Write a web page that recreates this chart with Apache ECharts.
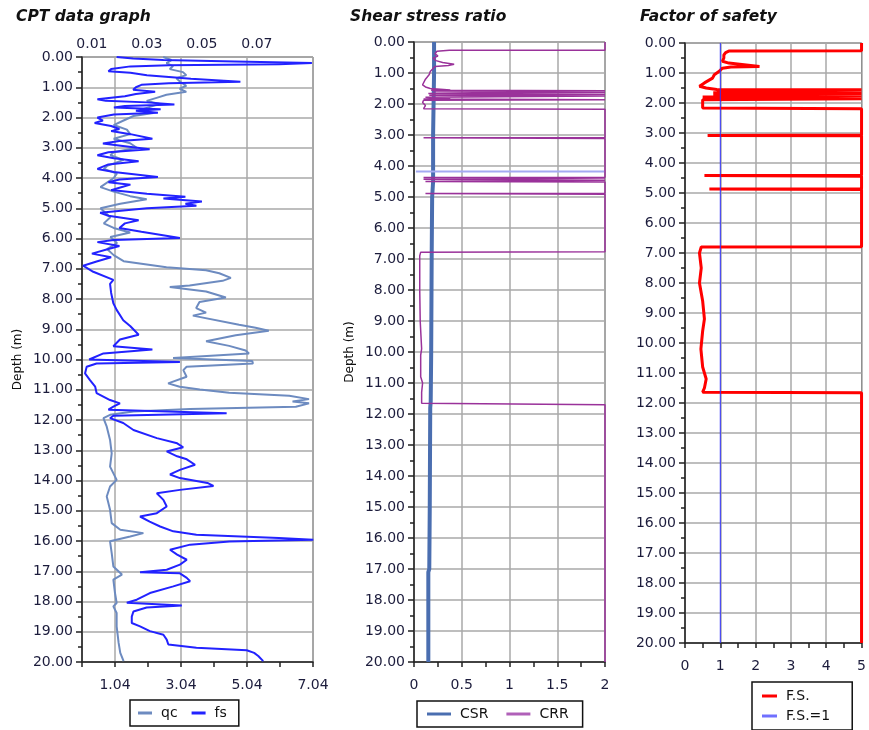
<!DOCTYPE html>
<html>
<head>
<meta charset="utf-8">
<script src="https://cdn.jsdelivr.net/npm/echarts@6/dist/echarts.min.js"></script>
<style>
  html, body { margin: 0; padding: 0; background: #fff; }
  #chart { width: 869px; height: 730px; }
</style>
</head>
<body>
<div id="chart"></div>
<script>
// CPT data: [value, depth]
var qcData = [
  [2.5,0.0],[2.75,0.1],[2.6,0.2],[2.8,0.3],[2.7,0.4],[3.1,0.5],[3.2,0.6],[2.9,0.7],[3.05,0.85],[3.2,0.95],
  [3.0,1.05],[3.2,1.15],[2.6,1.25],[2.3,1.35],[2.0,1.45],[2.4,1.55],[2.1,1.65],[1.8,1.75],[2.2,1.85],[1.6,1.95],
  [1.3,2.1],[1.0,2.25],[1.4,2.4],[1.5,2.55],[1.0,2.7],[1.5,2.85],[1.7,3.0],[1.0,3.15],[0.9,3.25],[1.3,3.4],
  [0.8,3.6],[0.7,3.7],[1.1,3.85],[1.0,4.0],[0.6,4.3],[1.0,4.45],[1.5,4.6],[2.0,4.7],[1.2,4.85],[0.6,5.0],
  [0.7,5.1],[0.9,5.3],[0.7,5.5],[1.0,5.65],[1.5,5.8],[0.9,5.95],[1.1,6.15],[0.8,6.35],[1.0,6.55],[1.3,6.75],
  [2.6,6.95],[3.8,7.05],[4.2,7.15],[4.55,7.3],[4.3,7.4],[3.3,7.55],[2.7,7.6],[3.8,7.75],[4.1,7.85],[4.4,7.95],
  [3.6,8.1],[3.5,8.3],[3.8,8.45],[3.4,8.55],[4.8,8.85],[5.3,8.95],[5.7,9.05],[4.7,9.2],[3.8,9.4],[4.5,9.55],
  [5.0,9.7],[5.1,9.8],[2.8,9.95],[5.2,10.05],[5.22,10.13],[3.21,10.24],[3.11,10.35],[3.21,10.57],[2.65,10.79],[3.0,10.9],
  [3.61,10.99],[4.5,11.1],[6.32,11.2],[6.92,11.31],[6.42,11.39],[6.92,11.45],[6.52,11.56],[3.31,11.64],[1.6,11.72],[0.89,11.83],
  [0.69,11.94],[0.79,12.22],[0.89,12.66],[0.94,13.1],[0.89,13.54],[1.09,13.98],[0.89,14.2],[0.79,14.53],[0.89,14.97],[0.94,15.41],
  [1.2,15.63],[1.9,15.74],[1.5,15.85],[0.89,16.01],[0.94,16.4],[0.99,16.84],[1.25,17.11],[0.99,17.28],[1.04,17.72],[1.09,18.05],
  [0.99,18.16],[1.09,18.38],[1.09,18.82],[1.15,19.37],[1.2,19.7],[1.3,19.97]
];
var fsData = [
  [0.019,0.0],[0.025,0.05],[0.036,0.1],[0.062,0.15],[0.090,0.2],[0.078,0.24],[0.038,0.27],[0.024,0.31],[0.017,0.4],[0.016,0.47],
  [0.024,0.52],[0.03,0.6],[0.038,0.66],[0.046,0.72],[0.064,0.82],[0.038,0.87],[0.028,0.92],[0.026,1.0],[0.025,1.08],[0.033,1.15],
  [0.026,1.22],[0.022,1.3],[0.012,1.4],[0.015,1.45],[0.03,1.5],[0.04,1.57],[0.022,1.62],[0.018,1.67],[0.035,1.73],[0.026,1.78],
  [0.034,1.84],[0.018,1.9],[0.012,2.0],[0.014,2.1],[0.011,2.18],[0.017,2.28],[0.02,2.38],[0.017,2.45],[0.024,2.55],[0.032,2.7],
  [0.02,2.78],[0.014,2.86],[0.022,2.95],[0.031,3.05],[0.016,3.15],[0.012,3.25],[0.018,3.35],[0.027,3.45],[0.016,3.55],[0.012,3.7],
  [0.018,3.8],[0.034,3.97],[0.02,4.05],[0.016,4.14],[0.024,4.22],[0.02,4.32],[0.017,4.4],[0.03,4.52],[0.044,4.62],[0.036,4.68],
  [0.05,4.78],[0.044,4.85],[0.048,4.92],[0.03,5.0],[0.013,5.15],[0.016,5.25],[0.027,5.4],[0.022,5.5],[0.02,5.65],[0.028,5.78],
  [0.042,5.98],[0.018,6.05],[0.012,6.12],[0.02,6.25],[0.016,6.35],[0.01,6.5],[0.017,6.62],[0.012,6.75],[0.0068,6.9],[0.0105,7.1],
  [0.0178,7.37],[0.0166,7.5],[0.017,7.8],[0.0178,8.14],[0.019,8.36],[0.0214,8.7],[0.024,8.9],[0.027,9.18],[0.0202,9.34],[0.0178,9.56],
  [0.032,9.67],[0.0142,9.8],[0.009,10.0],[0.042,10.08],[0.0117,10.13],[0.0081,10.24],[0.0075,10.46],[0.0093,10.68],[0.0112,10.9],[0.0117,11.11],
  [0.0166,11.34],[0.0202,11.45],[0.0178,11.56],[0.016,11.66],[0.059,11.78],[0.0178,11.86],[0.0166,11.94],[0.0214,12.1],[0.0251,12.33],[0.0336,12.6],
  [0.041,12.77],[0.0432,12.9],[0.0372,13.04],[0.041,13.2],[0.0445,13.3],[0.0475,13.48],[0.042,13.65],[0.0384,13.8],[0.042,13.92],[0.052,14.08],
  [0.0542,14.18],[0.042,14.31],[0.0336,14.42],[0.036,14.64],[0.0372,14.86],[0.0336,15.08],[0.0275,15.19],[0.031,15.36],[0.0348,15.52],[0.0396,15.68],
  [0.048,15.79],[0.078,15.9],[0.0905,15.96],[0.06,16.02],[0.0457,16.12],[0.0384,16.29],[0.041,16.45],[0.0445,16.62],[0.042,16.78],[0.0372,16.95],
  [0.0275,17.03],[0.042,17.07],[0.0445,17.22],[0.0457,17.33],[0.0396,17.5],[0.0311,17.72],[0.0263,17.94],[0.0227,18.04],[0.0427,18.13],[0.0299,18.2],
  [0.0251,18.33],[0.0245,18.5],[0.0245,18.71],[0.0275,18.82],[0.0311,18.98],[0.036,19.1],[0.0372,19.26],[0.0378,19.42],[0.048,19.53],[0.0663,19.61],
  [0.069,19.7],[0.0705,19.8],[0.0723,19.97]
];

// shear stress ratio: [ratio, depth]
var csrData = [
  [0.21,0],[0.21,1],[0.2,3],[0.2,4.5],[0.19,5],[0.185,7],[0.18,10],[0.175,11.6],[0.17,11.8],[0.165,15],
  [0.16,17],[0.15,17.1],[0.15,20]
];
var csrFlash = [[0.02,4.18],[2,4.18]];
var crrData = [
  [2,0],[2,0.27],[0.37,0.27],[0.24,0.3],[0.22,0.38],[0.25,0.45],[0.2,0.52],[0.23,0.6],[0.3,0.66],[0.42,0.72],
  [0.36,0.76],[0.22,0.79],[0.21,0.85],[0.17,0.95],[0.16,1.05],[0.12,1.2],[0.09,1.38],[0.12,1.45],[0.17,1.5],[0.38,1.55],
  [0.18,1.56],[2,1.57],[0.2,1.6],[2,1.63],[0.15,1.66],[2,1.69],[0.16,1.72],[2,1.74],[0.12,1.78],[0.38,1.83],
  [0.1,1.84],[2,1.86],[0.1,1.88],[0.09,1.95],[0.12,2.05],[0.1,2.15],[2,2.17],[2,3.08],[0.1,3.09],[2,3.11],
  [2,4.36],[0.1,4.37],[2,4.39],[0.1,4.43],[2,4.46],[0.12,4.5],[2,4.52],[2,4.88],[0.12,4.89],[2,4.91],
  [2,6.77],[0.07,6.78],[0.06,6.9],[0.06,8.0],[0.065,9.0],[0.08,9.9],[0.07,10.1],[0.07,10.8],[0.09,11.0],[0.08,11.3],
  [0.08,11.65],[2,11.7],[2,20]
];

// factor of safety: [F.S., depth]
var fsFactor = [
  [5,0],[5,0.26],[1.24,0.27],[1.15,0.32],[1.1,0.4],[1.1,0.5],[1.06,0.61],[1.24,0.67],[2.11,0.78],[1.3,0.8],
  [1.06,0.84],[0.96,0.95],[0.83,1.06],[0.78,1.17],[0.55,1.33],[0.41,1.44],[0.6,1.5],[0.9,1.55],[5,1.56],[0.9,1.6],
  [5,1.62],[0.8,1.66],[5,1.69],[0.8,1.72],[5,1.75],[0.5,1.8],[5,1.86],[0.5,1.89],[0.45,1.95],[0.5,2.05],
  [0.5,2.17],[5,2.19],[5,3.07],[0.64,3.08],[5,3.09],[5,4.41],[0.55,4.42],[5,4.44],[5,4.86],[0.69,4.87],
  [5,4.88],[5,6.79],[0.46,6.8],[0.41,7.0],[0.46,7.5],[0.41,8.0],[0.5,8.6],[0.55,9.2],[0.5,9.6],[0.45,10.2],
  [0.5,10.8],[0.6,11.2],[0.55,11.5],[0.5,11.64],[5,11.66],[5,20]
];
var fsOne = [[1,0],[1,20]];

var fsTopLabels = [0.01, 0.03, 0.05, 0.07];

var labelColor = '#1c1c3c';
var gridColor = '#a8a8a8';
var font = 'DejaVu Sans';

function depthAxis(gridIndex, name) {
  return {
    type: 'value', gridIndex: gridIndex, inverse: true, min: 0, max: 20, interval: 1,
    name: name, nameLocation: 'middle', nameGap: 58,
    nameTextStyle: { color: '#111', fontSize: 12, fontFamily: font },
    axisLine: { show: true, lineStyle: { color: '#222', width: 1.5 } },
    axisTick: { show: true, length: 6, lineStyle: { color: '#222', width: 1.5 } },
    minorTick: { show: true, splitNumber: 2, length: 4, lineStyle: { color: '#222', width: 1.5 } },
    splitLine: { show: true, lineStyle: { color: gridColor, width: 1.5 } },
    axisLabel: { color: labelColor, fontSize: 14, fontFamily: font, margin: 9,
      formatter: function (v) { return v.toFixed(2); } }
  };
}

function bottomAxis(gridIndex, min, max, step, colors, fmt) {
  return {
    type: 'value', gridIndex: gridIndex, position: 'bottom', min: min, max: max, interval: step,
    axisLine: { show: true, onZero: false, lineStyle: { color: '#222', width: 1.5 } },
    axisTick: { show: true, length: 5, lineStyle: { color: '#222', width: 1.5 } },
    splitLine: { show: true, lineStyle: { color: colors, width: 1.5 } },
    axisLabel: { color: labelColor, fontSize: 14, fontFamily: font, margin: 16, formatter: fmt }
  };
}

var chart = echarts.init(document.getElementById('chart'));
chart.setOption({
  animation: false,
  backgroundColor: '#fff',
  title: [
    { text: 'CPT data graph', left: 11, top: 4 },
    { text: 'Shear stress ratio', left: 345, top: 4 },
    { text: 'Factor of safety', left: 635, top: 4 }
  ].map(function (t) {
    t.textStyle = { fontSize: 15.5, fontWeight: 'bold', fontStyle: 'italic', color: '#111', fontFamily: font };
    return t;
  }),
  grid: [
    { left: 82, top: 57, width: 231, height: 605, show: true, borderColor: '#444', borderWidth: 1 },
    { left: 414, top: 42, width: 191, height: 620, show: true, borderColor: '#444', borderWidth: 1 },
    { left: 685, top: 43, width: 182, height: 600, show: true, borderColor: '#444', borderWidth: 1 }
  ],
  xAxis: [
    bottomAxis(0, 0.04, 7.04, 1, ['transparent', gridColor], function (v) {
      return Math.round(v - 0.04) % 2 === 1 ? v.toFixed(2) : '';
    }),
    {
      type: 'value', gridIndex: 0, position: 'top', min: 0.0064, max: 0.0904,
      axisLine: { show: false }, axisTick: { show: false }, splitLine: { show: false },
      axisLabel: { customValues: fsTopLabels, color: labelColor, fontSize: 14, fontFamily: font, margin: 6,
        formatter: function (v) { return v.toFixed(2); } }
    },
    bottomAxis(1, 0, 2, 0.25, [gridColor, 'transparent'], function (v) {
      return Math.abs(v * 2 - Math.round(v * 2)) < 1e-6 ? String(v) : '';
    }),
    bottomAxis(2, 0, 5, 0.5, [gridColor, 'transparent'], function (v) {
      return Math.abs(v - Math.round(v)) < 1e-6 ? String(v) : '';
    })
  ],
  yAxis: [
    depthAxis(0, 'Depth (m)'),
    depthAxis(1, 'Depth (m)'),
    depthAxis(2, '')
  ],
  legend: [
    { data: ['qc', 'fs'], left: 130, top: 700, itemWidth: 14, padding: [6, 12, 6, 8], itemGap: 14 },
    { data: ['CSR', 'CRR'], left: 417, top: 701, itemWidth: 24, padding: [6, 14, 6, 10], itemGap: 18 },
    { data: ['F.S.', 'F.S.=1'], left: 752, top: 682, orient: 'vertical', itemWidth: 15,
      padding: [7, 22, 7, 10], itemGap: 6 }
  ].map(function (l) {
    l.icon = 'rect';
    l.itemHeight = 3;
    l.borderColor = '#111';
    l.borderWidth = 1.5;
    l.textStyle = { fontSize: 14, color: '#111', fontFamily: font, padding: [0, 0, 0, 4] };
    return l;
  }),
  series: [
    { name: 'qc', type: 'line', xAxisIndex: 0, yAxisIndex: 0, data: qcData, showSymbol: false,
      lineStyle: { color: '#6d8bc0', width: 2 }, itemStyle: { color: '#6d8bc0' } },
    { name: 'fs', type: 'line', xAxisIndex: 1, yAxisIndex: 0, data: fsData, showSymbol: false,
      lineStyle: { color: '#2222ff', width: 2 }, itemStyle: { color: '#2222ff' } },
    { name: 'CSR', type: 'line', xAxisIndex: 2, yAxisIndex: 1, data: csrData, showSymbol: false,
      lineStyle: { color: '#4a6eb0', width: 4 }, itemStyle: { color: '#4a6eb0' } },
    { name: 'csrFlash', type: 'line', xAxisIndex: 2, yAxisIndex: 1, data: csrFlash, showSymbol: false,
      lineStyle: { color: '#a4aaf2', width: 2 }, itemStyle: { color: '#a4aaf2' } },
    { name: 'CRR', type: 'line', xAxisIndex: 2, yAxisIndex: 1, data: crrData, showSymbol: false,
      lineStyle: { color: '#9a329a', width: 1.5 }, itemStyle: { color: '#b060b8' } },
    { name: 'F.S.', type: 'line', xAxisIndex: 3, yAxisIndex: 2, data: fsFactor, showSymbol: false,
      lineStyle: { color: '#ff0000', width: 3 }, itemStyle: { color: '#ff0000' } },
    { name: 'F.S.=1', type: 'line', xAxisIndex: 3, yAxisIndex: 2, data: fsOne, showSymbol: false,
      lineStyle: { color: '#3030ff', width: 1 }, itemStyle: { color: '#7070ff' } }
  ]
});
</script>
</body>
</html>
